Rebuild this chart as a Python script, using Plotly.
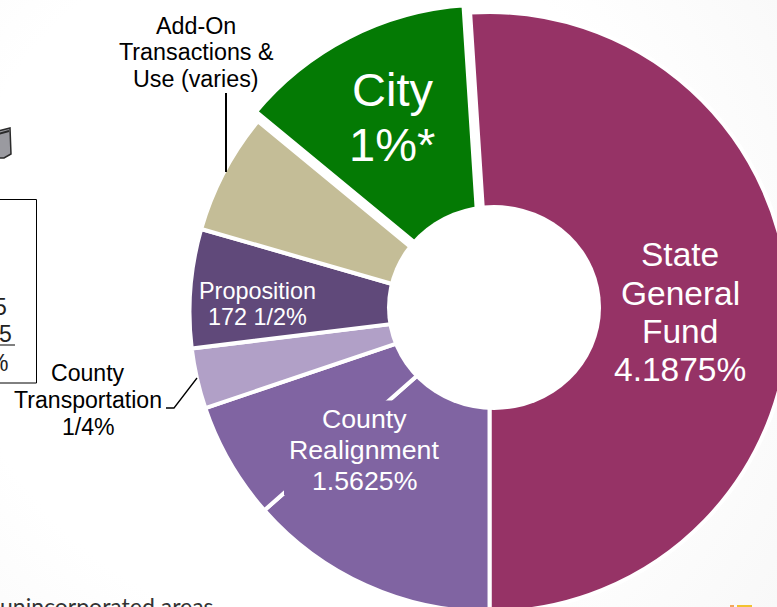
import plotly.graph_objects as go

# Fig canvas is larger than the window; the page clips the overflow like the cropped reference
W, H = 830, 650

slices = ["State General Fund", "County Realignment", "County Realignment (part)",
          "County Transportation", "Proposition 172", "Add-On Transactions & Use", "City"]
shares = [51.0, 13.5, 6.3, 3.25, 6.4, 6.5, 13.0]
colors = ["#963366", "#8064A2", "#8064A2", "#B1A0C7", "#60497A", "#C4BD97", "#047A04"]
pulls = [0, 0, 0, 0, 0, 0, 0.035]
edge_widths = [4, 4, 4, 4, 4, 4, 8]

labels = [
    (["State", "General", "Fund", "4.1875%"], 680, [254, 293, 331, 369], 33.5, "white"),
    (["County", "Realignment", "1.5625%"], 364, [419, 450, 481], 26.7, "white"),
    (["Proposition", "172 1/2%"], 257, [291, 317], 23.4, "white"),
    (["City", "1%*"], 392, [89, 144], 47, "white"),
    (["County", "Transportation", "1/4%"], 88, [373, 400, 427], 23.1, "black"),
    (["Add-On", "Transactions &", "Use (varies)"], 196, [26, 52, 79], 23.3, "black"),
]
FONT = "Liberation Sans"


def px(x):
    return x / W


def py(y):
    return 1 - y / H


cx, cy, d = 489.5, 312, 600 * 1.035
fig = go.Figure(go.Pie(
    labels=slices, values=shares, sort=False, direction="clockwise", rotation=-3.7,
    hole=0.25, pull=pulls, textinfo="none", hoverinfo="label+percent", showlegend=False,
    marker=dict(colors=colors, line=dict(color="white", width=edge_widths)),
    domain=dict(x=[px(cx - d / 2), px(cx + d / 2)], y=[py(cy + d / 2), py(cy - d / 2)]),
))


def rect(x0, y0, x1, y1, **kw):
    return dict(type="rect", xref="paper", yref="paper",
                x0=px(x0), x1=px(x1), y0=py(y0), y1=py(y1), **kw)


def poly(points, **kw):
    p = "M " + " L ".join(f"{px(x):.5f},{py(y):.5f}" for x, y in points)
    return dict(type="path", xref="paper", yref="paper", path=p, **kw)


shapes = [
    # centre circle, as drawn over the doughnut in the reference
    dict(type="circle", xref="paper", yref="paper", x0=px(387), x1=px(601), y0=py(410), y1=py(205),
         fillcolor="white", line=dict(width=0)),
    # label backing that interrupts the white divider in County Realignment
    rect(284, 400.5, 445, 495, fillcolor="#8064A2", line=dict(width=0)),
    # leader lines
    poly([(226, 93), (226, 172)], line=dict(color="black", width=2)),
    poly([(166, 408), (174, 408), (197, 378)], line=dict(color="black", width=1.3)),
    # left cropped box
    rect(-5, 199.5, 36.5, 383, line=dict(color="black", width=1), fillcolor="rgba(0,0,0,0)"),
    poly([(0, 345), (15, 345)], line=dict(color="black", width=1)),
    # cropped icon
    poly([(-2, 131), (10, 128), (11, 154), (4, 158), (-2, 158)],
         fillcolor="#9A9AA0", line=dict(color="#2A2A2A", width=1.5)),
    poly([(-2, 134), (9, 131)], line=dict(color="#2A2A2A", width=2)),
    # cropped logo at bottom right
    rect(737, 605, 752, 610, fillcolor="#F2C230", line=dict(width=0)),
    rect(730, 605, 734, 610, fillcolor="#F2A65A", line=dict(width=0)),
]

ann = []
for lines, x, ys, size, color in labels:
    for t, y in zip(lines, ys):
        ann.append(dict(text=t, x=px(x), y=py(y), xref="paper", yref="paper", showarrow=False,
                        xanchor="center", yanchor="middle",
                        font=dict(family=FONT, size=size, color=color)))

for t, x, y in [("5", 9, 307), ("5", 14, 334), ("%", 10, 363)]:
    ann.append(dict(text=t, x=px(x), y=py(y), xref="paper", yref="paper", showarrow=False,
                    xanchor="right", yanchor="middle", font=dict(family=FONT, size=23, color="#222222")))

ann.append(dict(text="unincorporated areas", x=px(-2), y=py(606), xref="paper", yref="paper",
                showarrow=False, xanchor="left", yanchor="middle",
                font=dict(family="Lato", size=23, color="#333333")))

fig.update_layout(width=W, height=H, margin=dict(l=0, r=0, t=0, b=0),
                  paper_bgcolor="rgba(0,0,0,0)", shapes=shapes, annotations=ann)

fig.write_html("out.html", config=dict(displayModeBar=False),
               post_script="var r=document.documentElement;r.style.overflow='hidden';r.style.height='100%';"
                           "r.style.background='radial-gradient(circle at 40% 45%, #ffffff 62%, #f8f8f8 100%)';"
                           "document.body.style.overflow='hidden';document.body.style.margin='0';")
